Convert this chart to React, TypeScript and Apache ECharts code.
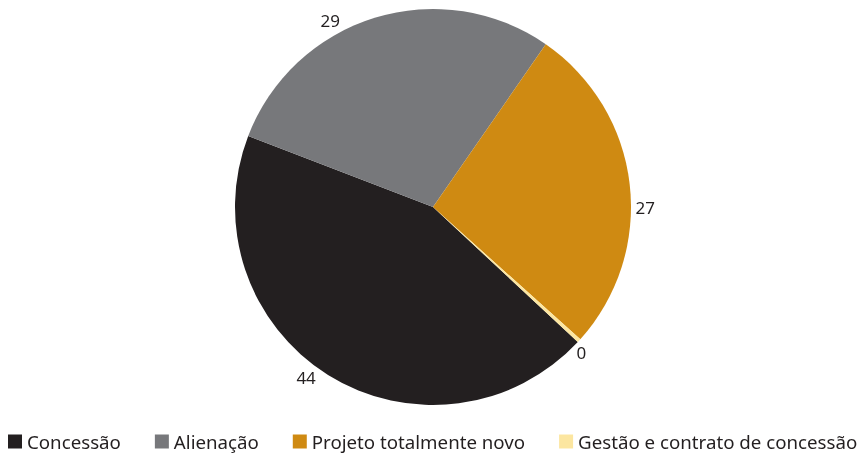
import React, { useEffect, useRef } from "react";
import * as echarts from "echarts";

const categories = [
  "Concessão",
  "Alienação",
  "Projeto totalmente novo",
  "Gestão e contrato de concessão",
];
const values = [43.9, 28.8, 27.0, 0.3];
const colors = ["#231f20", "#77787b", "#cf8a12", "#fce6a0"];
// label nudges (style only)
const labelNudge = [
  [-4, -2],
  [-28, 8],
  [-5, 24],
  [-12, 8],
];

export default function App() {
  const ref = useRef<HTMLDivElement>(null);
  useEffect(() => {
    if (!ref.current) return;
    const chart = echarts.init(ref.current, undefined, { renderer: "svg" });
    chart.setOption({
      animation: false,
      textStyle: { fontFamily: "Noto Sans" },
      legend: {
        left: 8,
        top: 432,
        padding: 0,
        itemWidth: 14,
        itemHeight: 14,
        itemGap: 34,
        icon: "rect",
        textStyle: { fontSize: 18.7, color: "#231f20" },
        data: categories,
      },
      series: [
        {
          type: "pie",
          center: [433, 207],
          radius: 198,
          startAngle: -43,
          clockwise: true,
          label: {
            show: true,
            position: "outside",
            fontSize: 17,
            color: "#231f20",
            formatter: (p: any) => String(Math.round(p.value)),
          },
          labelLine: { show: false, length: 6, length2: 0 },
          labelLayout: (p: any) => ({
            dx: labelNudge[p.dataIndex][0],
            dy: labelNudge[p.dataIndex][1],
          }),
          emphasis: { disabled: true },
          data: categories.map((c, i) => ({
            name: c,
            value: values[i],
            itemStyle: { color: colors[i] },
          })),
        },
      ],
    });
    return () => chart.dispose();
  }, []);
  return (
    <div
      ref={ref}
      style={{ position: "fixed", left: 0, top: 0, width: 860, height: 453 }}
    />
  );
}
